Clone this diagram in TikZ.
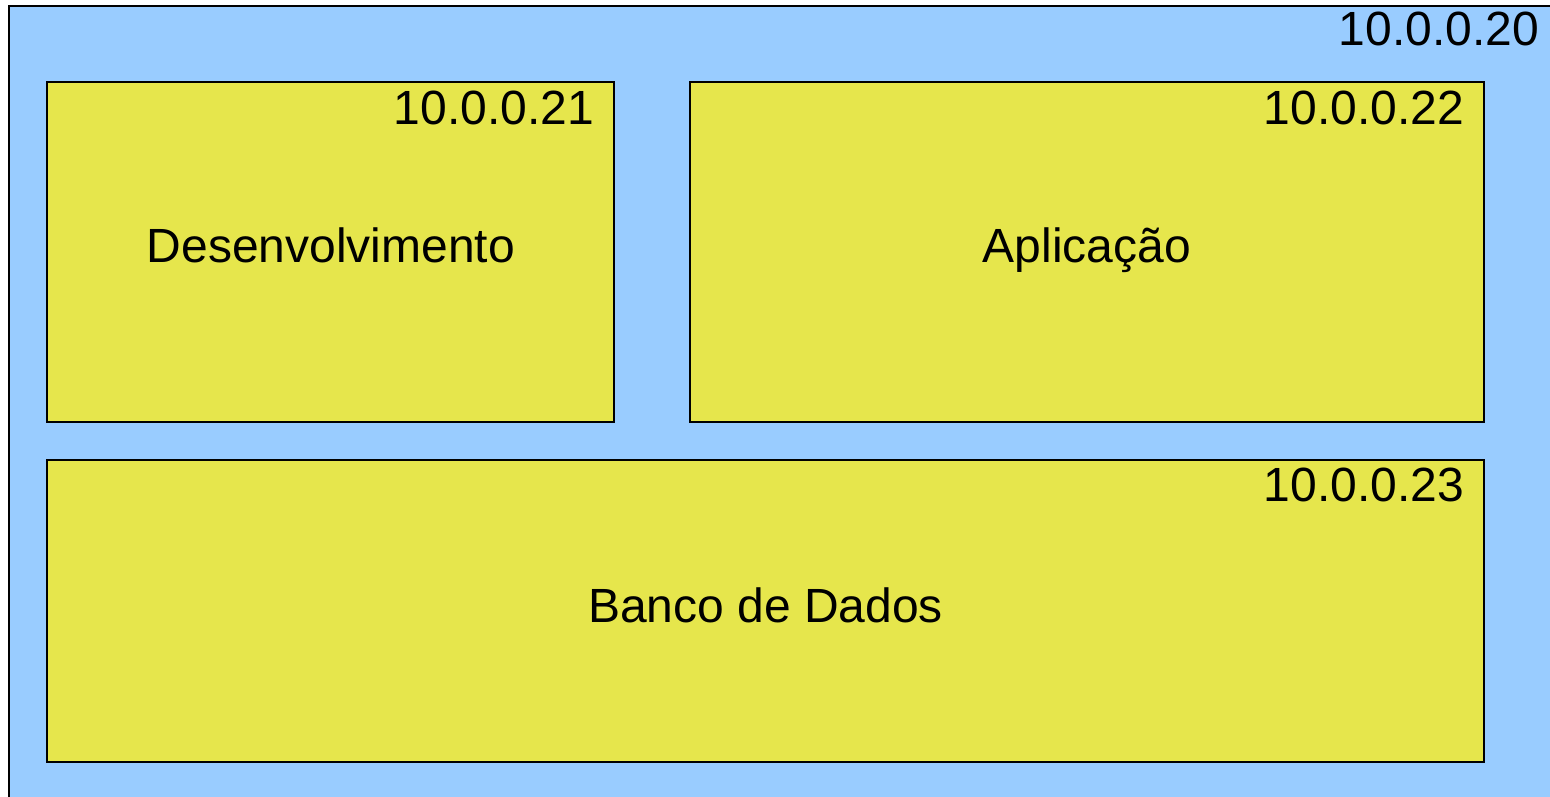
\documentclass[tikz,border=0pt]{standalone}
\usepackage{fontspec}
\setmainfont{Liberation Sans}
\definecolor{netblue}{HTML}{99CCFF}
\definecolor{hostyellow}{HTML}{E6E64C}
\begin{document}
\begin{tikzpicture}[x=1pt,y=-1pt,
  hostbox/.style={draw=black,fill=hostyellow,line width=2.5pt,inner sep=0pt,outer sep=0pt},
  netbox/.style={draw=black,fill=netblue,line width=2.5pt,inner sep=0pt,outer sep=0pt},
  iplabel/.style={font=\fontsize{48}{57}\selectfont,anchor=base east,inner sep=0pt},
  mainlabel/.style={font=\fontsize{48}{57}\selectfont,anchor=base,inner sep=0pt}]
\useasboundingbox (0,0) rectangle (1550,796);
\clip (0,0) rectangle (1550,796);
\node[netbox,minimum width=1560pt,minimum height=810pt,anchor=north west] (net) at (9,6) {};
\node[iplabel] (netip) at (1539,45) {10.0.0.20};
\node[hostbox,minimum width=567pt,minimum height=340pt,anchor=north west] (dev) at (47,82) {};
\node[iplabel] (devip) at (594,124) {10.0.0.21};
\node[mainlabel] (devt) at (331,262) {Desenvolvimento};
\node[hostbox,minimum width=794pt,minimum height=340pt,anchor=north west] (app) at (690,82) {};
\node[iplabel] (appip) at (1464,124) {10.0.0.22};
\node[mainlabel] (appt) at (1087,262) {Aplicação};
\node[hostbox,minimum width=1437pt,minimum height=302pt,anchor=north west] (db) at (47,460) {};
\node[iplabel] (dbip) at (1464,501) {10.0.0.23};
\node[mainlabel] (dbt) at (765.5,622) {Banco de Dados};
\end{tikzpicture}
\end{document}
